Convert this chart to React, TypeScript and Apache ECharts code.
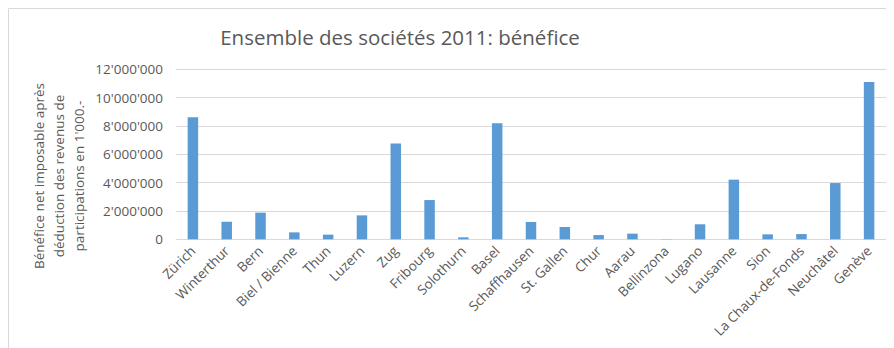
import React, { useEffect, useRef } from "react";
import * as echarts from "echarts";

const categories = [
  "Zürich", "Winterthur", "Bern", "Biel / Bienne", "Thun", "Luzern", "Zug", "Fribourg",
  "Solothurn", "Basel", "Schaffhausen", "St. Gallen", "Chur", "Aarau", "Bellinzona",
  "Lugano", "Lausanne", "Sion", "La Chaux-de-Fonds", "Neuchâtel", "Genève",
];
const values = [
  8610000, 1240000, 1880000, 490000, 330000, 1690000, 6770000, 2770000,
  140000, 8190000, 1220000, 870000, 300000, 400000, 15000,
  1060000, 4210000, 350000, 370000, 3970000, 11100000,
];
const titleText = "Ensemble des sociétés 2011: bénéfice";
const yAxisTitle = ["Bénéfice net imposable après", "déduction des revenus de", "participations en 1'000.-"];

const fmt = (v: number) => String(Math.round(v)).replace(/\B(?=(\d{3})+(?!\d))/g, "'");

const FONT = "'Open Sans', sans-serif";
const GREY = "#595959";

export default function App() {
  const ref = useRef<HTMLDivElement>(null);
  useEffect(() => {
    if (!ref.current) return;
    const chart = echarts.init(ref.current, undefined, { renderer: "svg" });
    chart.setOption({
      animation: false,
      textStyle: { fontFamily: FONT },
      title: {
        text: titleText,
        left: 387,
        top: 13,
        textAlign: "center",
        textStyle: { fontFamily: FONT, fontSize: 20.5, fontWeight: "normal", color: GREY },
      },
      graphic: [
        { type: "line", shape: { x1: 0.5, y1: 0.5, x2: 886, y2: 0.5 }, style: { stroke: "#d9d9d9", lineWidth: 1 } },
        { type: "line", shape: { x1: 0.5, y1: 0.5, x2: 0.5, y2: 340 }, style: { stroke: "#d9d9d9", lineWidth: 1 } },
        {
          type: "text",
          x: 51,
          y: 168,
          rotation: Math.PI / 2,
          style: {
            text: yAxisTitle.join("\n"),
            fontFamily: FONT,
            fontSize: 13.5,
            lineHeight: 20,
            fill: GREY,
            align: "center",
            verticalAlign: "middle",
          },
        },
      ],
      grid: { left: 168, right: 8, top: 61.3, bottom: 108.7, containLabel: false },
      xAxis: {
        type: "category",
        data: categories,
        axisLine: { lineStyle: { color: "#d9d9d9" } },
        axisTick: { show: false },
        axisLabel: { rotate: 45, interval: 0, fontSize: 13.5, color: GREY, margin: 9, fontFamily: FONT },
      },
      yAxis: {
        type: "value",
        min: 0,
        max: 12000000,
        interval: 2000000,
        axisLine: { show: false },
        axisTick: { show: false },
        splitLine: { lineStyle: { color: "#d9d9d9" } },
        axisLabel: { formatter: (v: number) => fmt(v), fontSize: 13.5, color: GREY, margin: 13, fontFamily: FONT },
      },
      series: [
        {
          type: "bar",
          data: values,
          barWidth: 10.5,
          itemStyle: { color: "#5b9bd5" },
        },
      ],
    });
    return () => chart.dispose();
  }, []);
  return <div ref={ref} style={{ width: 886, height: 340 }} />;
}
